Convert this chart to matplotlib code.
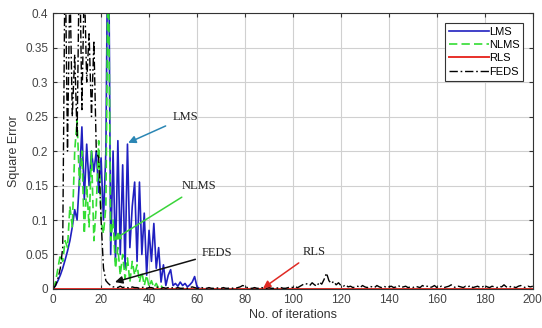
import numpy as np
import matplotlib
matplotlib.use("Agg")
import matplotlib.pyplot as plt
from matplotlib.ticker import FuncFormatter, MultipleLocator

# ── data ─────────────────────────────────────────────────────────────────────
LMS_X = list(range(0, 63)) + [200]
LMS_Y = [0.0, 0.005, 0.012, 0.02, 0.03, 0.042, 0.055, 0.07, 0.09, 0.115,
         0.1, 0.16, 0.235, 0.13, 0.21, 0.15, 0.2, 0.17, 0.2, 0.14,
         0.19, 0.1, 0.2, 0.6, 0.05, 0.2, 0.04, 0.215, 0.05, 0.18,
         0.03, 0.21, 0.06, 0.12, 0.155, 0.04, 0.155, 0.05, 0.11, 0.02,
         0.085, 0.04, 0.095, 0.03, 0.06, 0.01, 0.035, 0.005, 0.02, 0.028,
         0.005, 0.008, 0.004, 0.01, 0.005, 0.008, 0.003, 0.006, 0.01, 0.018,
         0.003, 0.001, 0.0, 0.0]

NLMS_X = list(range(0, 47)) + [200]
NLMS_Y = [0.0, 0.01, 0.03, 0.05, 0.04, 0.07, 0.06, 0.12, 0.09, 0.2,
          0.245, 0.15, 0.2, 0.08, 0.15, 0.09, 0.2, 0.07, 0.12, 0.215,
          0.1, 0.08, 0.12, 0.5, 0.07, 0.1, 0.03, 0.06, 0.02, 0.05,
          0.015, 0.045, 0.01, 0.04, 0.02, 0.035, 0.01, 0.025, 0.005, 0.02,
          0.003, 0.012, 0.002, 0.008, 0.001, 0.005, 0.0, 0.0]

RLS_X = [0, 200]
RLS_Y = [0.0, 0.0]

FEDS_X = list(range(0, 201))
FEDS_Y = [0.0, 0.005, 0.015, 0.03, 0.06, 0.5, 0.2, 0.45, 0.25, 0.34,
          0.22, 0.5, 0.26, 0.45, 0.3, 0.37, 0.25, 0.36, 0.2, 0.19,
          0.1, 0.03, 0.012, 0.008, 0.005, 0.003,
          # 26-50
          0.003, 0.002, 0.004, 0.002, 0.003, 0.002, 0.001, 0.003, 0.002, 0.002,
          0.001, 0.002, 0.003, 0.001, 0.002, 0.002, 0.001, 0.003, 0.002, 0.001,
          0.002, 0.001, 0.002, 0.001, 0.002,
          # 51-75
          0.001, 0.002, 0.001, 0.001, 0.002, 0.001, 0.002, 0.003, 0.002, 0.001,
          0.001, 0.002, 0.001, 0.001, 0.002, 0.001, 0.001, 0.002, 0.001, 0.001,
          0.002, 0.001, 0.001, 0.002, 0.001,
          # 76-100
          0.001, 0.002, 0.003, 0.005, 0.004, 0.002, 0.001, 0.001, 0.002, 0.001,
          0.001, 0.002, 0.001, 0.001, 0.002, 0.001, 0.001, 0.002, 0.001, 0.002,
          0.001, 0.001, 0.002, 0.003, 0.002,
          # 101-125
          0.003, 0.002, 0.004, 0.006, 0.008, 0.007, 0.005, 0.009, 0.006, 0.004,
          0.01, 0.007, 0.014, 0.023, 0.012, 0.008, 0.011, 0.006, 0.009, 0.005,
          0.004, 0.006, 0.003, 0.004, 0.002,
          # 126-150
          0.003, 0.004, 0.002, 0.005, 0.003, 0.002, 0.004, 0.003, 0.002, 0.005,
          0.003, 0.002, 0.004, 0.002, 0.003, 0.004, 0.002, 0.003, 0.005, 0.002,
          0.003, 0.004, 0.002, 0.003, 0.002,
          # 151-175
          0.004, 0.003, 0.002, 0.005, 0.003, 0.004, 0.002, 0.003, 0.005, 0.002,
          0.003, 0.004, 0.002, 0.003, 0.004, 0.006, 0.003, 0.002, 0.004, 0.003,
          0.002, 0.004, 0.003, 0.005, 0.002,
          # 176-200
          0.003, 0.004, 0.002, 0.003, 0.005, 0.003, 0.002, 0.004, 0.003, 0.002,
          0.004, 0.003, 0.006, 0.003, 0.002, 0.004, 0.003, 0.002, 0.004, 0.005,
          0.003, 0.002, 0.004, 0.003, 0.004]

# annotations: label, text position, arrow tip, colour
NOTES = [
    ("LMS",  (55, 0.249), (31.3, 0.212), "#2a86b4"),
    ("NLMS", (61, 0.149), (25.0, 0.071), "#3ad43a"),
    ("FEDS", (68.5, 0.052), (25.8, 0.010), "#111111"),
    ("RLS",  (109, 0.054), (87.5, 0.001), "#e02a24"),
]

# ── figure ───────────────────────────────────────────────────────────────────
plt.rcParams["font.family"] = ["Liberation Sans", "DejaVu Sans"]
fig = plt.figure(figsize=(5.42, 3.28), dpi=100)
ax = fig.add_axes([0.098, 0.119, 0.885, 0.841])

ax.plot(LMS_X, LMS_Y, color="#2020c0", lw=1.2, label="LMS")
ax.plot(NLMS_X, NLMS_Y, color="#33dd33", lw=1.2, ls=(0, (5, 2.5)), label="NLMS")
ax.plot(RLS_X, RLS_Y, color="#e8302a", lw=1.4, label="RLS")
ax.plot(FEDS_X, FEDS_Y, color="black", lw=1.0, ls=(0, (6, 2, 1.2, 2)), label="FEDS")

for label, xy_text, xy_tip, col in NOTES:
    ax.annotate(label, xy=xy_tip, xytext=xy_text, ha="center", va="center",
                fontsize=9, family="Liberation Serif", color="#222222",
                arrowprops=dict(arrowstyle="-|>", color=col, lw=1.1,
                                mutation_scale=11, shrinkA=3, shrinkB=0))

ax.set_xlim(0, 200)
ax.set_ylim(0, 0.4)
ax.xaxis.set_major_locator(MultipleLocator(20))
ax.yaxis.set_major_locator(MultipleLocator(0.05))
ax.yaxis.set_major_formatter(FuncFormatter(lambda v, p: f"{v:g}"))
ax.grid(True, color="#d0d0d0", lw=0.8)
ax.set_axisbelow(True)
ax.tick_params(direction="in", top=True, right=True, length=3,
               labelsize=8.5, labelcolor="#444444", color="#333333")
for s in ax.spines.values():
    s.set_color("#333333")
    s.set_linewidth(0.8)

ax.set_xlabel("No. of iterations", fontsize=9, color="#333333", labelpad=2)
ax.set_ylabel("Square Error", fontsize=9, color="#333333", labelpad=4)

leg = ax.legend(loc="upper right", bbox_to_anchor=(0.98, 0.965), fontsize=8,
                handlelength=3.6, handletextpad=0.0, labelspacing=0.3,
                borderpad=0.35, borderaxespad=0, fancybox=False, framealpha=1)
leg.get_frame().set_edgecolor("#333333")
leg.get_frame().set_linewidth(0.8)

fig.savefig("out.png", dpi=100)
